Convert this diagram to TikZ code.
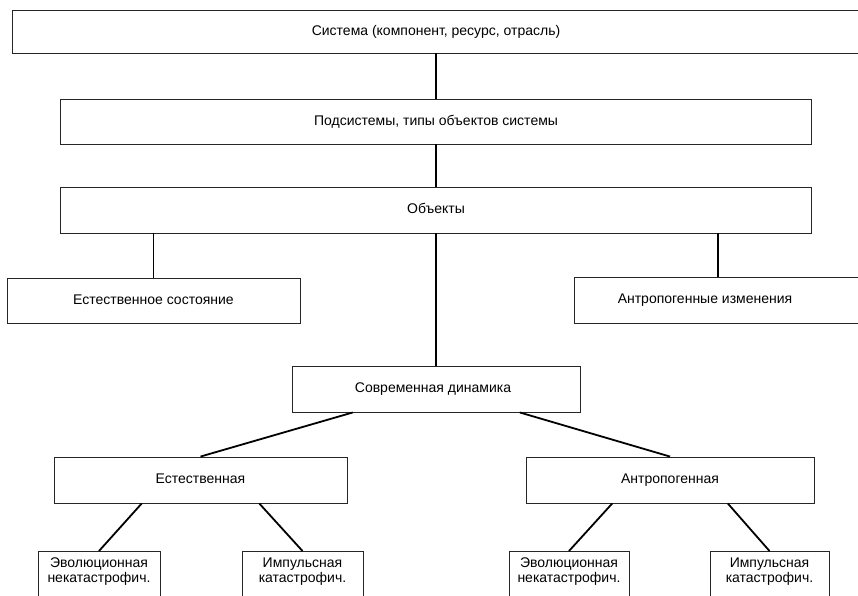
\documentclass[tikz,border=0pt]{standalone}
\usepackage{fontspec}
\setmainfont{Liberation Sans}
\usetikzlibrary{calc}
\begin{document}
\begin{tikzpicture}[x=1pt,y=-1pt,
  box/.style={draw=black!85, line width=0.9pt, fill=white, rectangle, inner sep=0pt,
    font=\fontsize{14}{15}\selectfont, text height=10pt, text depth=3pt},
  leaf/.style={box, text height=16pt, text depth=40pt, inner sep=0pt},
  link/.style={draw=black, line width=1.8pt}]
\useasboundingbox (0,0) rectangle (858,595);
\clip (0,0) rectangle (858,595);
% boxes
\node[box, minimum width=848pt, minimum height=43pt] (sys) at (436,31.5) {Система (компонент, ресурс, отрасль)};
\node[box, minimum width=751pt, minimum height=45pt] (sub) at (436,121.5) {Подсистемы, типы объектов системы};
\node[box, minimum width=751pt, minimum height=46pt] (obj) at (436,210) {Объекты};
\node[box, minimum width=293pt, minimum height=45pt] (natst) at (153.5,300.5) {Естественное состояние};
\node[box, minimum width=288pt, minimum height=46pt] (anch) at (718,300) {\hspace*{-26pt}Антропогенные изменения};
\node[box, minimum width=288pt, minimum height=46pt] (dyn) at (436,389) {\hspace*{-6pt}Современная динамика};
\node[box, minimum width=293pt, minimum height=46pt] (nat) at (200.5,480) {Естественная};
\node[box, minimum width=288pt, minimum height=46pt] (ant) at (670,480) {Антропогенная};
\node[leaf, minimum width=122pt, anchor=north] (ev1) at (99,551) {\begin{tabular}[t]{@{}c@{}}Эволюционная\\некатастрофич.\end{tabular}};
\node[leaf, minimum width=121pt, anchor=north] (im1) at (302.5,551) {\begin{tabular}[t]{@{}c@{}}Импульсная\\катастрофич.\end{tabular}};
\node[leaf, minimum width=120pt, anchor=north] (ev2) at (569,551) {\begin{tabular}[t]{@{}c@{}}Эволюционная\\некатастрофич.\end{tabular}};
\node[leaf, minimum width=119pt, anchor=north] (im2) at (769.5,551) {\begin{tabular}[t]{@{}c@{}}Импульсная\\катастрофич.\end{tabular}};
% connectors
\draw[link] (sys.south) -- (sub.north);
\draw[link] (sub.south) -- (obj.north);
\draw[link] (obj.south -| natst.north) -- (natst.north);
\draw[link] (obj.south -| anch.north) -- (anch.north);
\draw[link] (obj.south) -- (dyn.north);
\draw[link] ($(dyn.south west)!0.212!(dyn.south east)$) -- (nat.north);
\draw[link] ($(dyn.south west)!0.79!(dyn.south east)$) -- (ant.north);
\draw[link] ($(nat.south west)!0.30!(nat.south east)$) -- (ev1.north);
\draw[link] ($(nat.south west)!0.70!(nat.south east)$) -- (im1.north);
\draw[link] ($(ant.south west)!0.30!(ant.south east)$) -- (ev2.north);
\draw[link] ($(ant.south west)!0.70!(ant.south east)$) -- (im2.north);
\end{tikzpicture}
\end{document}
